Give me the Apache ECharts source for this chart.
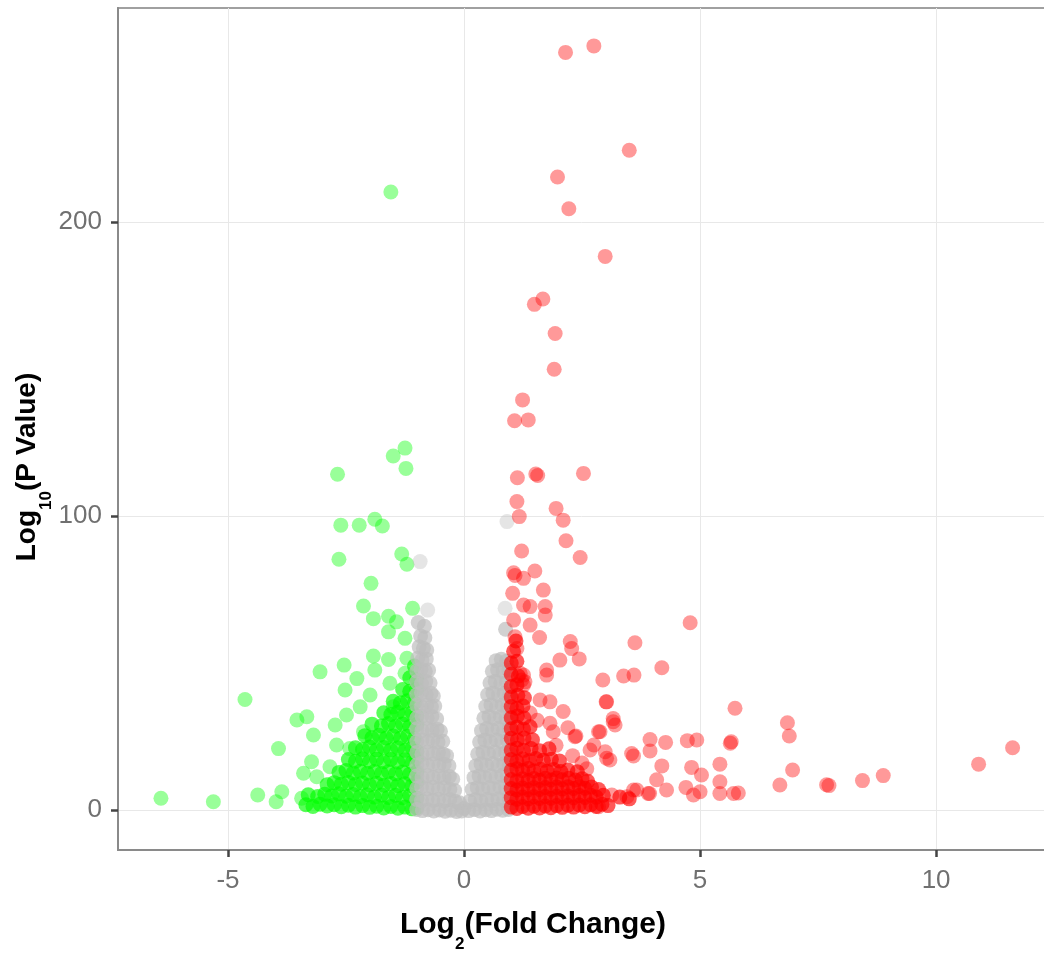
<!DOCTYPE html>
<html>
<head>
<meta charset="utf-8">
<script src="https://cdn.jsdelivr.net/npm/echarts@6/dist/echarts.min.js"></script>
<style>
html,body{margin:0;padding:0;background:#fff;}
#chart{width:1044px;height:953px;}
</style>
</head>
<body>
<div id="chart"></div>
<script>
// ---- tick labels ----
const xTicks = [-5, 0, 5, 10];
const yTicks = [0, 100, 200];

// ---- down-regulated (green): isolated points ----
const greenSparse = [[-1.55,210.2],[-1.25,123.1],[-1.50,120.4],[-1.23,116.2],[-2.68,114.2],[-2.61,96.9],[-2.22,96.9],[-1.89,98.9],[-1.73,96.6],[-2.65,85.3],[-1.32,87.1],[-1.21,83.6],[-1.97,77.1],[-2.13,69.4],[-1.09,68.6],[-1.92,65.1],[-1.60,65.9],[-1.43,64.0],[-1.60,60.6],[-1.25,58.4],[-1.92,52.4],[-1.60,51.2],[-1.21,51.6],[-2.54,49.3],[-3.05,47.0],[-1.89,47.6],[-2.27,44.7],[-1.57,43.1],[-1.25,46.5],[-2.52,40.8],[-1.99,39.1],[-4.64,37.6],[-2.20,35.1],[-1.50,35.1],[-3.54,30.6],[-3.33,31.7],[-2.49,32.3],[-2.73,28.9],[-3.19,25.5],[-2.13,26.6],[-3.93,20.9],[-2.70,22.1],[-2.42,20.9],[-3.23,16.4],[-2.84,14.7],[-3.40,12.5],[-3.12,11.3],[-6.42,4.0],[-5.31,2.8],[-4.37,5.1],[-3.86,6.2],[-3.98,2.8],[-3.44,4.0]];
// ---- down-regulated (green): dense cloud ----
const greenDense = [[-3.35,1.8],[-3.2,1.2],[-3.05,2.0],[-2.9,1.4],[-2.75,1.8],[-2.6,1.1],[-2.45,1.6],[-2.3,1.0],[-2.15,1.5],[-2.0,0.9],[-1.85,1.3],[-1.7,0.7],[-1.55,1.2],[-1.4,0.6],[-1.25,1.0],[-1.1,0.4],[-1.0,0.8],
[-3.3,5.2],[-3.1,4.6],[-2.95,5.4],[-2.8,4.8],[-2.65,5.5],[-2.5,4.7],[-2.35,5.3],[-2.2,4.5],[-2.05,5.2],[-1.9,4.4],[-1.75,5.1],[-1.6,4.3],[-1.45,5.0],[-1.3,4.2],[-1.15,4.9],[-1.0,4.1],
[-2.9,8.6],[-2.75,9.3],[-2.6,8.8],[-2.45,9.4],[-2.3,8.7],[-2.15,9.2],[-2.0,8.5],[-1.85,9.1],[-1.7,8.4],[-1.55,9.0],[-1.4,8.3],[-1.25,8.9],[-1.1,8.2],[-1.0,9.5],
[-2.65,12.8],[-2.5,13.4],[-2.35,12.6],[-2.2,13.2],[-2.05,12.5],[-1.9,13.1],[-1.75,12.4],[-1.6,13.0],[-1.45,12.3],[-1.3,12.9],[-1.15,12.2],[-1.0,13.0],
[-2.45,17.2],[-2.3,16.6],[-2.15,17.4],[-2.0,16.5],[-1.85,17.3],[-1.7,16.4],[-1.55,17.2],[-1.4,16.3],[-1.25,17.1],[-1.1,16.2],[-1.0,17.5],
[-2.3,21.2],[-2.15,20.6],[-2.0,21.4],[-1.85,20.5],[-1.7,21.3],[-1.55,20.4],[-1.4,21.2],[-1.25,20.3],[-1.1,21.1],[-1.0,20.0],
[-2.1,25.3],[-1.95,24.6],[-1.8,25.4],[-1.65,24.5],[-1.5,25.2],[-1.35,24.4],[-1.2,25.1],[-1.05,24.3],
[-1.95,29.2],[-1.75,28.6],[-1.6,29.4],[-1.45,28.5],[-1.3,29.3],[-1.15,28.4],[-1.0,29.0],
[-1.7,33.1],[-1.55,32.5],[-1.4,33.3],[-1.25,32.4],[-1.1,33.2],[-1.0,32.0],
[-1.5,37.0],[-1.35,36.4],[-1.2,37.2],[-1.05,36.5],
[-1.3,41.0],[-1.15,40.4],[-1.0,41.2],[-1.15,45.0],[-1.0,44.4],[-1.05,49.0]];

// ---- not significant (grey) ----
const greySparse = [[-0.77,68.0],[-0.93,84.5],[0.87,68.6],[0.91,98.1]];
const greyLeft = [[-1.0,0.2],[-0.88,-0.2],[-0.76,0.1],[-0.64,-0.3],[-0.52,0.0],[-0.4,-0.4],[-0.28,-0.1],[-0.16,-0.5],[-0.05,-0.3],[0.0,0.5],
[-1.0,3.6],[-0.9,3.2],[-0.78,3.8],[-0.66,3.3],[-0.54,3.7],[-0.42,3.1],[-0.3,3.6],[-0.19,3.0],[-0.1,2.5],
[-1.0,7.4],[-0.9,7.9],[-0.78,7.2],[-0.66,7.8],[-0.54,7.1],[-0.42,7.7],[-0.3,7.0],[-0.2,6.6],
[-1.0,11.6],[-0.89,11.0],[-0.77,11.7],[-0.65,11.1],[-0.53,11.6],[-0.42,11.0],[-0.31,11.4],[-0.24,10.5],
[-1.0,15.3],[-0.89,15.9],[-0.77,15.2],[-0.65,15.8],[-0.53,15.1],[-0.42,15.6],[-0.32,15.0],
[-1.0,19.6],[-0.89,19.0],[-0.77,19.7],[-0.65,19.1],[-0.54,19.6],[-0.44,19.0],[-0.37,18.5],
[-1.0,23.3],[-0.89,23.9],[-0.77,23.2],[-0.66,23.8],[-0.55,23.1],[-0.45,23.4],
[-1.0,27.6],[-0.89,27.0],[-0.78,27.7],[-0.67,27.1],[-0.57,27.5],[-0.5,26.8],
[-1.0,31.3],[-0.89,31.9],[-0.78,31.2],[-0.68,31.8],[-0.58,31.0],
[-1.0,35.6],[-0.9,35.0],[-0.79,35.7],[-0.69,35.1],[-0.62,35.4],
[-1.0,39.3],[-0.9,39.9],[-0.8,39.2],[-0.7,39.7],[-0.65,38.8],
[-1.0,43.6],[-0.9,43.0],[-0.81,43.7],[-0.72,43.2],
[-1.0,47.3],[-0.91,47.9],[-0.82,47.2],[-0.75,47.6],
[-0.98,51.6],[-0.89,51.0],[-0.8,51.4],[-0.95,55.5],[-0.86,55.0],[-0.79,54.4],
[-0.92,59.2],[-0.83,58.6],[-0.84,62.5],[-0.97,63.8]];
const greyRight = [[0.1,-0.2],[0.22,0.2],[0.34,-0.3],[0.46,0.1],[0.58,-0.2],[0.7,0.3],[0.82,-0.1],[0.94,0.2],
[0.12,3.0],[0.24,3.6],[0.36,3.1],[0.48,3.7],[0.6,3.2],[0.72,3.8],[0.84,3.3],[0.96,3.6],
[0.17,7.0],[0.28,7.6],[0.4,7.1],[0.52,7.7],[0.64,7.2],[0.76,7.8],[0.88,7.3],[0.98,7.6],
[0.21,11.0],[0.32,11.6],[0.44,11.1],[0.56,11.7],[0.68,11.2],[0.8,11.8],[0.92,11.3],
[0.25,15.0],[0.36,15.7],[0.48,15.2],[0.6,15.8],[0.72,15.1],[0.84,15.7],[0.96,15.3],
[0.29,19.0],[0.4,19.7],[0.52,19.2],[0.64,19.8],[0.76,19.1],[0.88,19.6],[0.98,19.2],
[0.33,23.1],[0.44,23.8],[0.56,23.2],[0.68,23.9],[0.8,23.3],[0.92,23.7],
[0.37,27.0],[0.48,27.7],[0.6,27.2],[0.72,27.8],[0.84,27.1],[0.96,27.6],
[0.42,31.2],[0.53,31.8],[0.65,31.1],[0.77,31.7],[0.89,31.2],[0.98,31.6],
[0.46,35.2],[0.57,35.8],[0.69,35.1],[0.81,35.7],[0.93,35.2],
[0.5,39.2],[0.61,39.8],[0.73,39.1],[0.85,39.7],[0.97,39.2],
[0.55,43.2],[0.66,43.8],[0.78,43.1],[0.9,43.6],
[0.6,47.2],[0.71,47.7],[0.83,47.1],[0.95,47.6],
[0.68,50.8],[0.79,51.3],[0.9,50.6],[0.88,61.5]];

// ---- up-regulated (red): isolated points ----
const redSparse = [[2.15,257.7],[2.75,259.9],[3.50,224.4],[1.98,215.3],[2.22,204.5],[2.99,188.3],[1.49,172.0],[1.67,173.8],[1.93,162.1],[1.91,149.9],[1.24,139.5],[1.07,132.4],[1.36,132.7],[1.13,113.0],[1.52,114.3],[1.56,113.8],[2.53,114.5],[1.12,104.9],[1.95,102.6],[1.17,99.8],[2.10,98.6],[2.16,91.6],[1.22,88.1],[2.46,85.9],[1.05,80.7],[1.08,79.8],[1.50,81.3],[1.26,78.8],[1.68,74.8],[1.03,73.7],[1.72,69.2],[1.26,69.7],[1.40,69.2],[1.72,66.3],[4.79,63.7],[1.05,64.6],[1.40,62.9],[1.08,58.9],[1.60,58.7],[2.25,57.3],[3.62,56.9],[2.28,54.9],[1.12,54.9],[2.03,51.0],[2.44,51.4],[1.75,47.6],[4.19,48.4],[1.26,45.9],[2.94,44.2],[3.38,45.6],[3.60,45.9],[1.26,42.5],[1.75,45.9],[3.01,36.8],[1.82,36.8],[1.61,37.4],[1.22,44.2],[1.19,46.5],[1.29,43.6],[3.16,31.1],[3.20,28.9],[2.85,26.6],[2.37,25.2],[1.82,29.5],[1.89,26.6],[3.94,24.0],[4.27,23.0],[4.73,23.6],[4.93,23.8],[5.64,22.7],[5.66,23.2],[2.67,20.4],[3.02,17.6],[3.59,18.4],[3.94,20.1],[4.19,15.0],[4.82,14.5],[5.03,11.9],[5.42,15.6],[4.08,10.3],[4.29,6.8],[4.70,7.7],[4.86,5.1],[5.0,6.2],[5.42,9.6],[5.42,5.6],[5.71,5.6],[5.81,5.8],[3.66,6.8],[3.90,5.6],[3.45,4.5],[3.13,5.1],[2.85,1.1],[3.59,6.8],[3.93,5.6],[3.16,30.0],[3.02,36.8],[2.88,26.6],[3.09,17.0],[2.99,19.8],[3.55,19.2],[5.74,34.6],[6.85,29.7],[6.89,25.2],[6.96,13.6],[6.69,8.5],[7.68,8.6],[7.73,8.3],[8.44,10.0],[8.88,11.7],[10.90,15.6],[11.62,21.2],[2.35,24.9],[2.75,22.1],[1.40,33.0],[1.55,30.5],[2.10,33.5],[2.30,18.5],[2.50,16.0],[2.60,14.0],[2.20,28.0],[1.95,22.0]];
// ---- up-regulated (red): dense cloud ----
const redDense = [[1.0,1.0],[1.12,0.5],[1.24,1.2],[1.36,0.6],[1.48,1.3],[1.6,0.7],[1.72,1.4],[1.84,0.8],[1.96,1.5],[2.08,0.9],[2.2,1.6],[2.32,1.0],[2.44,1.7],[2.56,1.1],[2.68,1.8],[2.8,1.2],[2.92,2.0],[3.05,1.5],
[1.0,4.2],[1.12,3.7],[1.24,4.4],[1.36,3.8],[1.48,4.5],[1.6,3.9],[1.72,4.6],[1.84,4.0],[1.96,4.7],[2.08,4.1],[2.2,4.8],[2.32,4.2],[2.44,4.9],[2.56,4.3],[2.68,5.0],[2.8,4.4],[2.95,5.0],[3.3,4.4],[3.5,3.8],
[1.0,7.3],[1.12,6.8],[1.24,7.5],[1.36,6.9],[1.48,7.6],[1.6,7.0],[1.72,7.7],[1.84,7.1],[1.96,7.8],[2.08,7.2],[2.2,7.9],[2.32,7.3],[2.44,8.0],[2.56,7.4],[2.7,7.8],[2.85,7.0],
[1.0,10.4],[1.12,9.9],[1.24,10.6],[1.36,10.0],[1.48,10.7],[1.6,10.1],[1.72,10.8],[1.84,10.2],[1.96,10.9],[2.08,10.3],[2.22,10.8],[2.36,10.2],[2.5,10.6],[2.62,9.8],
[1.0,13.5],[1.12,14.0],[1.24,13.4],[1.36,14.1],[1.48,13.3],[1.62,13.9],[1.76,13.2],[1.9,13.8],[2.05,13.1],[2.2,13.6],[2.4,13.0],
[1.0,17.2],[1.12,16.6],[1.24,17.4],[1.38,16.8],[1.52,17.5],[1.68,16.9],[1.85,17.3],[2.02,16.7],
[1.0,20.4],[1.12,21.0],[1.26,20.3],[1.42,20.9],[1.6,20.2],[1.8,20.8],
[1.0,24.4],[1.13,23.8],[1.27,24.5],[1.45,23.9],
[1.0,27.6],[1.12,28.2],[1.26,27.5],[1.4,28.3],
[1.0,31.4],[1.13,32.0],[1.27,31.3],
[1.0,35.2],[1.12,34.6],[1.25,35.4],
[1.0,38.4],[1.14,39.0],[1.28,38.2],
[1.0,42.0],[1.12,42.6],[1.0,46.2],[1.15,45.6],[1.0,50.0],[1.12,50.6],[1.05,54.0],[1.1,57.5]];

const chart = echarts.init(document.getElementById('chart'), null, {renderer: 'canvas'});

const titleRich = function (size) {
  return {
    a: {fontFamily: 'Liberation Sans, Arial, sans-serif', fontWeight: 'bold', fontSize: size, color: '#000', lineHeight: 56},
    s: {fontFamily: 'Liberation Sans, Arial, sans-serif', fontWeight: 'bold', fontSize: 17, color: '#000', lineHeight: 16, verticalAlign: 'bottom'}
  };
};

const axisCommon = {
  type: 'value',
  axisLine: {show: true, onZero: false, lineStyle: {color: '#8a8a8a', width: 2}},
  axisTick: {show: true, length: 7, lineStyle: {color: '#444', width: 2.5}},
  splitLine: {show: true, lineStyle: {color: '#e8e8e8', width: 1}},
  nameLocation: 'middle',
  nameMoveOverlap: false
};
const tickFont = {fontFamily: 'Liberation Sans, Arial, sans-serif', fontSize: 26, color: '#707070'};

const SIZE = 15;
const pointSeries = function (data, color, opacity) {
  return {type: 'scatter', data: data, symbol: 'circle', symbolSize: SIZE,
          itemStyle: {color: color, opacity: opacity}, silent: true};
};

chart.setOption({
  animation: false,
  backgroundColor: '#ffffff',
  grid: {left: 118, right: -4, top: 8, bottom: 103, show: true, borderColor: '#a0a0a0', borderWidth: 2,
         containLabel: false, outerBoundsMode: 'none'},
  xAxis: Object.assign({}, axisCommon, {
    min: -7.33, max: 12.37,
    axisTick: Object.assign({}, axisCommon.axisTick, {customValues: xTicks}),
    axisLabel: Object.assign({customValues: xTicks, margin: 18}, tickFont),
    name: '{a|Log}{s|2}{a|(Fold Change)}',
    nameGap: 47,
    nameTextStyle: {rich: titleRich(30), padding: [0, 100, 0, 0]}
  }),
  yAxis: Object.assign({}, axisCommon, {
    min: -13.6, max: 272.8,
    axisTick: Object.assign({}, axisCommon.axisTick, {customValues: yTicks}),
    axisLabel: Object.assign({customValues: yTicks, margin: 16}, tickFont),
    name: '{a|Log}{s|10}{a|(P Value)}',
    nameGap: 63,
    nameRotate: 90,
    nameTextStyle: {rich: titleRich(28), padding: [0, 76, 0, 0]}
  }),
  series: [
    pointSeries(greenDense, '#00ff00', 0.65),
    pointSeries(greenSparse, '#00ff00', 0.4),
    pointSeries(greyLeft.concat(greyRight), '#bebebe', 0.7),
    pointSeries(greySparse, '#bebebe', 0.4),
    pointSeries(redDense, '#ff0000', 0.65),
    pointSeries(redSparse, '#ff0000', 0.4)
  ]
});
</script>
</body>
</html>
